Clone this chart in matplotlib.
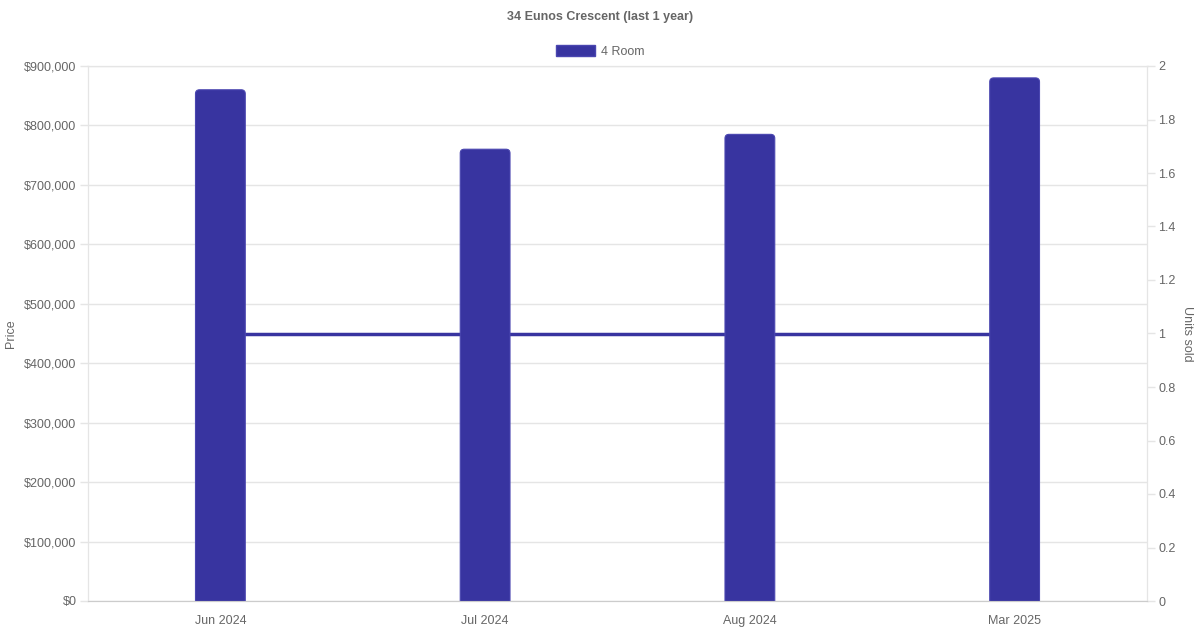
import matplotlib
matplotlib.use('Agg')
import matplotlib.pyplot as plt
from matplotlib.ticker import FuncFormatter, MultipleLocator
from matplotlib.patches import Patch, FancyBboxPatch

months = ['Jun 2024', 'Jul 2024', 'Aug 2024', 'Mar 2025']
prices = [860000, 760000, 785000, 880000]
units_sold = [1, 1, 1, 1]
series_name = '4 Room'
title = '34 Eunos Crescent (last 1 year)'

bar_color = '#3834a0'
edge_color = '#4a46b0'
text_color = '#666666'
grid_color = '#e5e5e5'

plt.rcParams['font.family'] = ['Liberation Sans', 'DejaVu Sans']
plt.rcParams['font.size'] = 9

fig = plt.figure(figsize=(12, 6.3), dpi=100)
ax = fig.add_axes([88 / 1200, 1 - 601 / 630, (1147 - 88) / 1200, (601 - 66) / 630])
ax2 = ax.twinx()

x = list(range(len(months)))
# line for units sold sits behind the bars
ax2.plot(x, units_sold, color=bar_color, linewidth=2.5, zorder=1)
ax2.set_ylim(0, 2)
ax2.yaxis.set_major_locator(MultipleLocator(0.2))
ax2.yaxis.set_major_formatter(FuncFormatter(lambda v, p: f'{v:g}'))

ax.set_zorder(ax2.get_zorder() + 1)
ax.patch.set_visible(False)
ax.set_xlim(-0.5, len(months) - 0.5)
ax.set_ylim(0, 900000)
bars = ax.bar(x, prices, width=0.188, color=bar_color, zorder=3)

# swap the plain rectangles for ones with rounded top corners
px_x = (len(months)) / 1059   # data units per pixel, x
px_y = 900000 / 535           # data units per pixel, y
r = 4 * px_x
for rect in bars:
    rect.set_visible(False)
    x0, w, h = rect.get_x(), rect.get_width(), rect.get_height()
    ext = 10 * px_y
    p = FancyBboxPatch((x0, -ext), w, h + ext,
                       boxstyle=f'round,pad=0,rounding_size={r}',
                       mutation_aspect=px_y / px_x,
                       facecolor=bar_color, edgecolor=edge_color, linewidth=0.8, zorder=3)
    ax.add_patch(p)

ax.yaxis.set_major_locator(MultipleLocator(100000))
ax.yaxis.set_major_formatter(FuncFormatter(lambda v, p: f'${int(v):,}'))
ax.set_xticks(x)
ax.set_xticklabels(months)
ax.grid(axis='y', color=grid_color, linewidth=1, zorder=0)
ax.set_axisbelow(True)

for a in (ax, ax2):
    for s in a.spines.values():
        s.set_color(grid_color)
    a.tick_params(colors=text_color, labelsize=9, length=5.8, width=1)
    a.tick_params(axis='y', color=grid_color, pad=2.5)
ax.spines['bottom'].set_color('#cccccc')
ax2.spines['bottom'].set_color('#cccccc')
ax.spines['bottom'].set_zorder(5)
ax.tick_params(axis='x', length=0, pad=10)

ax.set_ylabel('Price', color=text_color, fontsize=9, labelpad=5)
ax2.set_ylabel('Units sold', color=text_color, fontsize=9, rotation=270, labelpad=12)

fig.text(0.5, 1 - 17 / 630, title, ha='center', va='center', color=text_color,
         fontsize=9, fontweight='bold')
fig.legend(handles=[Patch(facecolor=bar_color, edgecolor=edge_color, label=series_name)],
           loc='center', bbox_to_anchor=(0.5, 1 - 51.5 / 630), frameon=False,
           handlelength=3.1, handleheight=0.9, labelcolor=text_color, fontsize=9,
           handletextpad=0.5)

fig.savefig('out.png', dpi=100)
